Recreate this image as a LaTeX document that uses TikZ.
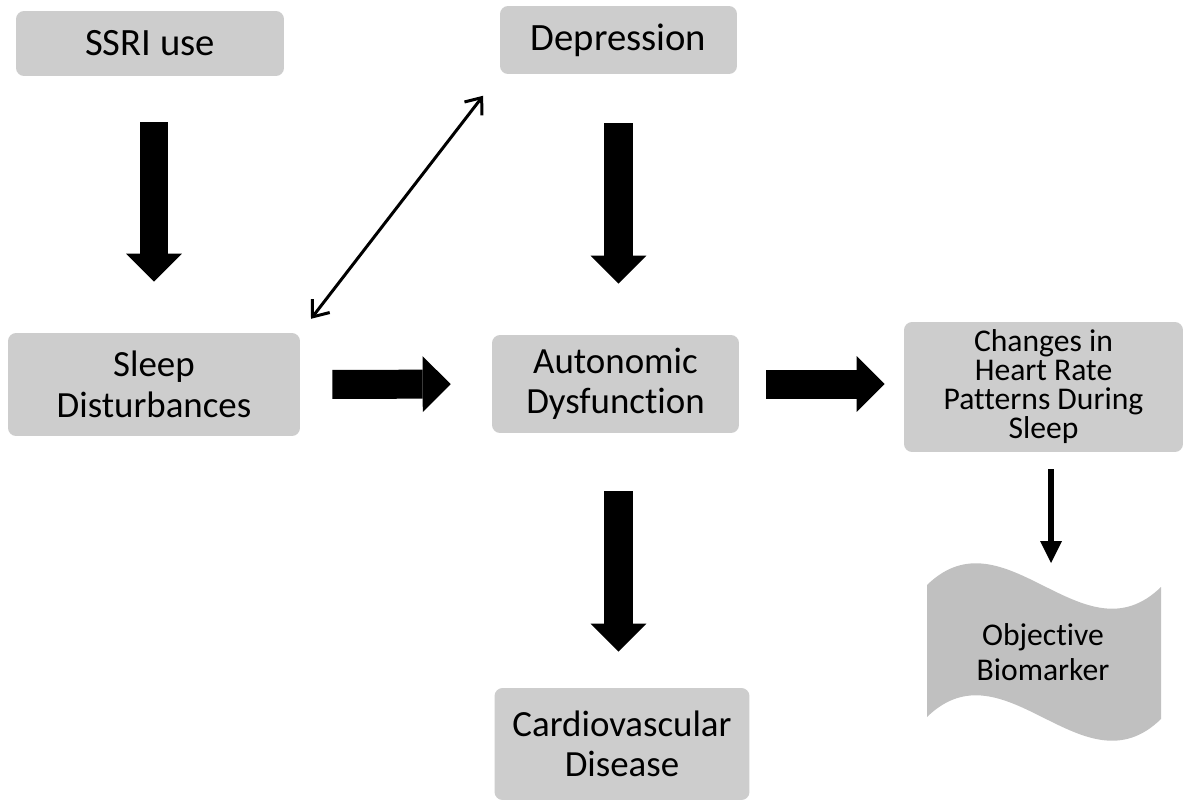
\documentclass[tikz,border=0pt]{standalone}
\usepackage{fontspec}
\setmainfont[Ligatures=NoCommon]{Carlito}
\usetikzlibrary{arrows.meta, positioning, calc}
\definecolor{BoxGray}{RGB}{205,205,205}
\definecolor{WaveGray}{RGB}{192,192,192}

\begin{document}
\begin{tikzpicture}[x=0.02cm, y=-0.02cm,
	bloque/.style={rectangle, rounded corners=0.16cm, fill=BoxGray,
		align=center, inner sep=0pt, font=\fontsize{21}{23}\selectfont},
	fgrueso/.style={line width=0.58cm,
		-{Triangle[length=0.56cm, width=1.12cm, line width=0pt]}},
	ffino/.style={line width=0.12cm,
		-{Triangle[length=0.44cm, width=0.44cm, line width=0pt]}},
	fdoble/.style={line width=0.06cm,
		{Straight Barb[length=0.28cm, width=0.44cm]}-{Straight Barb[length=0.28cm, width=0.44cm]}}]

	\useasboundingbox (0,0) rectangle (1188,805);

	% boxes
	\node[bloque, minimum width=5.36cm, minimum height=1.3cm,
		font=\fontsize{22}{24}\selectfont] (ssri) at (150,43.5) {SSRI use};
	\node[bloque, minimum width=4.74cm, minimum height=1.36cm,
		font=\fontsize{22}{24}\selectfont] (dep) at (618.5,40) {Depression};
	\node[bloque, minimum width=5.84cm, minimum height=2.06cm]
		(sleep) at (154,384.5) {Sleep\\Disturbances};
	\node[bloque, minimum width=4.94cm, minimum height=1.96cm]
		(auto) at (615.5,384) {Autonomic\\Dysfunction};
	\node[bloque, minimum width=5.58cm, minimum height=2.6cm,
		font=\fontsize{18}{16.5}\selectfont]
		(hr) at (1043.5,387) {Changes in\\Heart Rate\\Patterns During\\Sleep};
	\node[bloque, minimum width=5.1cm, minimum height=2.24cm]
		(cardio) at (622,744) {Cardiovascular\\Disease};

	% wave shape for the biomarker
	\fill[WaveGray] (927,585) .. controls (1005,509) and (1083,663) .. (1161,587)
		-- (1161,719) .. controls (1083,795) and (1005,641) .. (927,717) -- cycle;
	\node[align=center, inner sep=0pt, font=\fontsize{18}{19.5}\selectfont]
		(bio) at (1043,652) {Objective\\Biomarker};
	\coordinate (biotop) at (1051,563);

	% arrows
	\draw[fgrueso, shorten <=0.92cm, shorten >=1.02cm]
		(sleep.north |- ssri.south) -- (sleep.north);
	\draw[fgrueso, shorten <=0.98cm, shorten >=1.02cm]
		(dep.south) -- (dep.south |- auto.north);
	\draw[fgrueso, shorten <=1.16cm, shorten >=0.72cm]
		(auto.south -| dep.south) -- (dep.south |- cardio.north);
	\draw[fgrueso, shorten <=0.64cm, shorten >=0.82cm]
		(sleep.east) -- (auto.west);
	\draw[fgrueso, shorten <=0.54cm, shorten >=0.38cm]
		(auto.east) -- (auto.east -| hr.west);
	\draw[ffino, shorten <=0.34cm] (hr.south -| biotop) -- (biotop);
	\draw[fdoble, shorten <=0.35cm, shorten >=0.54cm]
		(sleep.north east) -- (dep.south west);
\end{tikzpicture}
\end{document}
